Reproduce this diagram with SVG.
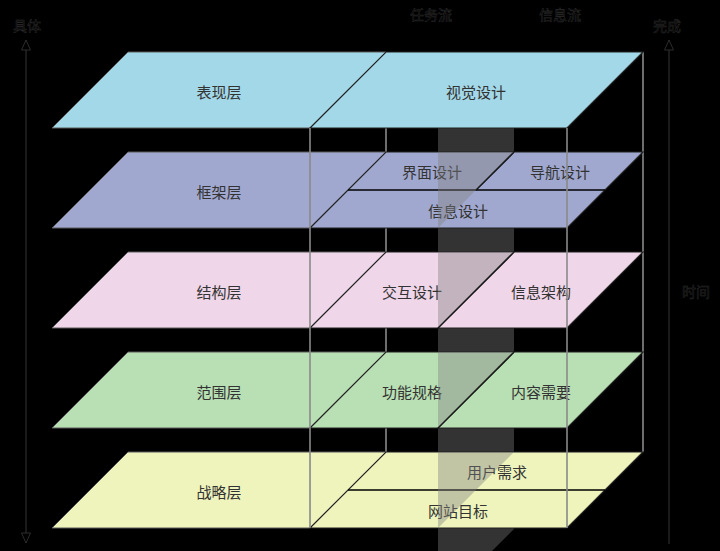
<svg xmlns="http://www.w3.org/2000/svg" width="720" height="551" viewBox="0 0 720 551">
<style>
text{font-family:"Noto Sans CJK SC","Noto Sans",sans-serif;text-anchor:middle;dominant-baseline:central}
.lbl{font-size:15px;fill:#333}
.top{font-size:14px;fill:#000;stroke:#2e2e2e;stroke-width:0.45}
.lp{stroke:#5a5a5a;stroke-width:1}
.rp{stroke:#222;stroke-width:1.2}
.div{stroke:#000;stroke-width:1.6;fill:none}
.edge{stroke:#8a8a8a;stroke-width:1.6;fill:none}
.band{fill:#808080;fill-opacity:0.4}
.axis{stroke:#2c2c2c;stroke-width:1.2;fill:none}
</style>
<defs>
<marker id="ah" viewBox="0 0 12 10" refX="11" refY="5" markerWidth="12" markerHeight="10" markerUnits="userSpaceOnUse" orient="auto-start-reverse">
<path d="M1,0.5 L11,5 L1,9.5 Z" fill="#000" stroke="#2c2c2c" stroke-width="1"/>
</marker>
</defs>
<rect x="0" y="0" width="720" height="551" fill="#000"/>

<g id="wire-back">
<line class="edge" x1="386" y1="52" x2="386" y2="452"/>
<line class="edge" x1="643" y1="52" x2="643" y2="452"/>
<polygon class="band" points="438,128 514,128 514,529 492,551 438,551"/>
</g>

<g id="layer-biaoxian">
<polygon class="lp" fill="#A3D8E9" points="128,52 386,52 310,128 52,128"/>
<polygon class="rp" fill="#A3D8E9" points="386,52 643,52 567,128 310,128"/>
<text class="lbl" x="219" y="91">表现层</text>
<text class="lbl" x="476" y="91">视觉设计</text>
</g>

<g id="layer-kuangjia">
<polygon class="lp" fill="#A1A8CF" points="128,152 386,152 310,228 52,228"/>
<polygon class="rp" fill="#A1A8CF" points="386,152 643,152 567,228 310,228"/>
<line class="div" x1="348" y1="190" x2="605" y2="190"/>
<line class="div" x1="514" y1="152" x2="476" y2="190"/>
<text class="lbl" x="219" y="191">框架层</text>
<text class="lbl" x="432" y="171">界面设计</text>
<text class="lbl" x="560" y="171">导航设计</text>
<text class="lbl" x="458" y="210">信息设计</text>
</g>

<g id="layer-jiegou">
<polygon class="lp" fill="#EFD6E8" points="128,252 386,252 310,328 52,328"/>
<polygon class="rp" fill="#EFD6E8" points="386,252 643,252 567,328 310,328"/>
<line class="div" x1="514" y1="252" x2="438" y2="328"/>
<text class="lbl" x="219" y="291">结构层</text>
<text class="lbl" x="412" y="291">交互设计</text>
<text class="lbl" x="541" y="291">信息架构</text>
</g>

<g id="layer-fanwei">
<polygon class="lp" fill="#B9E0B4" points="128,352 386,352 310,428 52,428"/>
<polygon class="rp" fill="#B9E0B4" points="386,352 643,352 567,428 310,428"/>
<line class="div" x1="514" y1="352" x2="438" y2="428"/>
<text class="lbl" x="219" y="391">范围层</text>
<text class="lbl" x="412" y="391">功能规格</text>
<text class="lbl" x="541" y="391">内容需要</text>
</g>

<g id="layer-zhanlue">
<polygon class="lp" fill="#EFF3BC" points="128,452 386,452 310,528 52,528"/>
<polygon class="rp" fill="#EFF3BC" points="386,452 643,452 567,528 310,528"/>
<line class="div" x1="348" y1="490" x2="605" y2="490"/>
<text class="lbl" x="219" y="491">战略层</text>
<text class="lbl" x="497" y="471">用户需求</text>
<text class="lbl" x="458" y="510">网站目标</text>
</g>

<g id="band-overlay">
<polygon class="band" points="438,152 514,152 438,228"/>
<polygon class="band" points="438,252 514,252 438,328"/>
<polygon class="band" points="438,352 514,352 438,428"/>
<polygon class="band" points="438,452 514,452 438,528"/>
</g>

<g id="wire-front">
<line class="edge" x1="310" y1="128" x2="310" y2="528"/>
<line class="edge" x1="567" y1="128" x2="567" y2="528"/>
</g>

<g id="connectors">
<line class="axis" x1="26" y1="40" x2="26" y2="543" marker-start="url(#ah)" marker-end="url(#ah)"/>
<line class="axis" x1="669" y1="40" x2="669" y2="544" marker-start="url(#ah)"/>
</g>

<g id="labels">
<text class="top" x="27" y="25">具体</text>
<text class="top" x="667" y="25">完成</text>
<text class="top" x="431" y="14">任务流</text>
<text class="top" x="560" y="14">信息流</text>
<text class="top" x="696" y="291">时间</text>
</g>
</svg>
